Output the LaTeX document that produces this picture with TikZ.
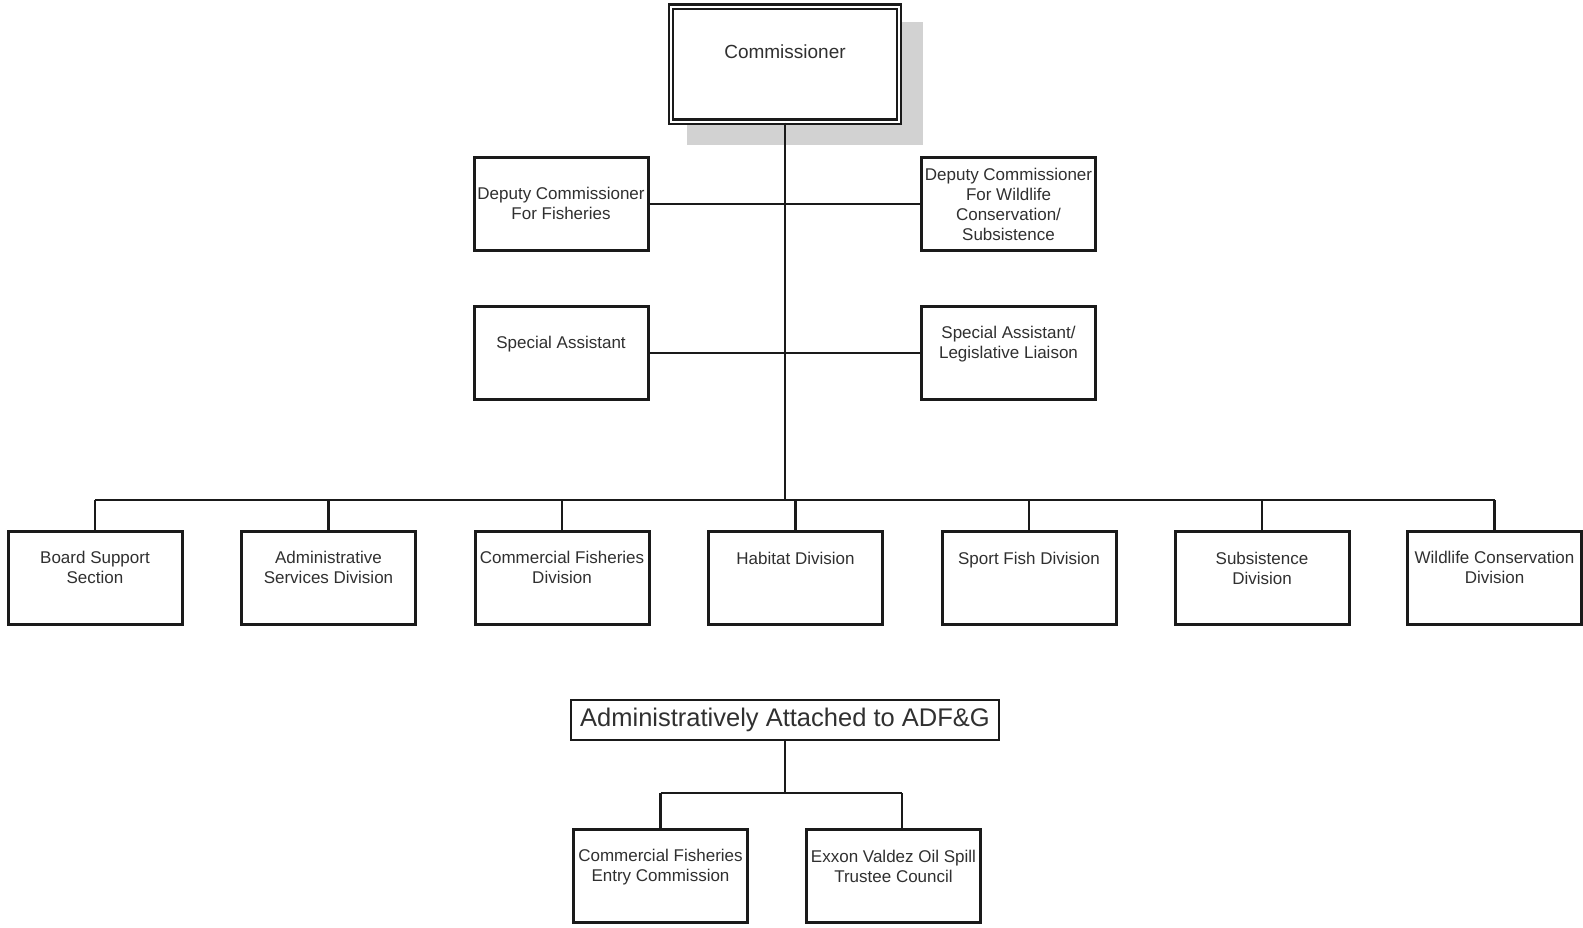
\documentclass[tikz,border=0pt]{standalone}
\usepackage{fontspec}
\setmainfont{Liberation Sans}
\definecolor{lin}{HTML}{1A1A1A}
\definecolor{txtc}{HTML}{303030}
\definecolor{shad}{HTML}{D2D2D2}
\begin{document}
\begin{tikzpicture}[x=1pt,y=-1pt,
  box/.style={draw=lin, line width=3pt, minimum width=174pt, minimum height=93pt, inner sep=0pt, fill=white},
  txt/.style={text=txtc, font=\fontsize{17}{20}\selectfont, align=center, inner sep=0pt},
  conn/.style={draw=lin, line width=2.8pt},
  thinconn/.style={draw=lin, line width=2.2pt},
  bus/.style={draw=lin, line width=1.9pt}]
\useasboundingbox (0,0) rectangle (1583,927);
% shadow of commissioner box
\fill[shad] (687,22) rectangle (923,145);
\node[draw=lin, line width=2.2pt, double=white, double distance=2pt, minimum width=228pt, minimum height=115pt, inner sep=0pt, fill=white] (comm) at (785,64) {};
\node[txt, font=\fontsize{19}{22}\selectfont] (tcomm) at (785,51.5) {Commissioner};

% deputies and assistants
\node[box] (dcf) at (561,204) {};
\node[box] (dcw) at (1008.5,204) {};
\node[box] (sa) at (561,353) {};
\node[box] (sal) at (1008.5,353) {};
\node[txt] (tdcf) at (561,203.5) {Deputy Commissioner\\For Fisheries};
\node[txt] (tdcw) at (1008.5,204.5) {Deputy Commissioner\\For Wildlife\\Conservation/\\Subsistence};
\node[txt] (tsa) at (561,344) {Special Assistant};
\node[txt] (tsal) at (1008.5,344) {Special Assistant/\\Legislative Liaison};

% divisions
\node[box] (bss) at (95,577.5) {};
\node[box] (asd) at (328.5,577.5) {};
\node[box] (cfd) at (562,577.5) {};
\node[box] (hab) at (795.5,577.5) {};
\node[box] (sfd) at (1029,577.5) {};
\node[box] (sub) at (1262,577.5) {};
\node[box] (wcd) at (1494.5,577.5) {};
\node[txt] (tbss) at (95,567.5) {Board Support\\Section};
\node[txt] (tasd) at (328.5,567.5) {Administrative\\Services Division};
\node[txt] (tcfd) at (562,567.5) {Commercial Fisheries\\Division};
\node[txt] (thab) at (795.5,558) {Habitat Division};
\node[txt] (tsfd) at (1029,560) {Sport Fish Division};
\node[txt] (tsub) at (1262,568.5) {Subsistence\\Division};
\node[txt] (twcd) at (1494.5,567.5) {Wildlife Conservation\\Division};

% connectors top part
\coordinate (busL) at (95,500);
\coordinate (busR) at (1495,500);
\draw[conn] (comm.south) -- (comm.south |- busL);
\draw[conn] (dcf.east) -- (dcw.west);
\draw[conn] (sa.east) -- (sal.west);
\draw[bus] (busL) -- (busR);
\foreach \b in {bss,asd,cfd,hab,sfd,sub,wcd}{
  \draw[conn] (\b.north |- busL) -- (\b.north);
}

% administratively attached
\node[draw=lin, line width=2.2pt, minimum width=428pt, minimum height=40pt, inner sep=0pt, text=txtc, font=\fontsize{25.5}{28}\selectfont] (adm) at (785,720) {\raisebox{-2pt}{Administratively Attached to ADF\&G}};
\node[box] (cfec) at (660.5,876) {};
\node[box] (evos) at (893.5,876) {};
\node[txt] (tcfec) at (660.5,867) {Commercial Fisheries\\Entry Commission};
\node[txt] (tevos) at (893.5,866) {Exxon Valdez Oil Spill\\Trustee Council};
\draw[conn] (adm.south) -- ++(0,52) coordinate (m);
\draw[thinconn] (cfec.north |- m) -- ([xshift=8.5pt]evos.north |- m);
\draw[thinconn] (cfec.north |- m) -- (cfec.north);
\draw[thinconn] ([xshift=8.5pt]evos.north |- m) -- ([xshift=8.5pt]evos.north);
\end{tikzpicture}
\end{document}
